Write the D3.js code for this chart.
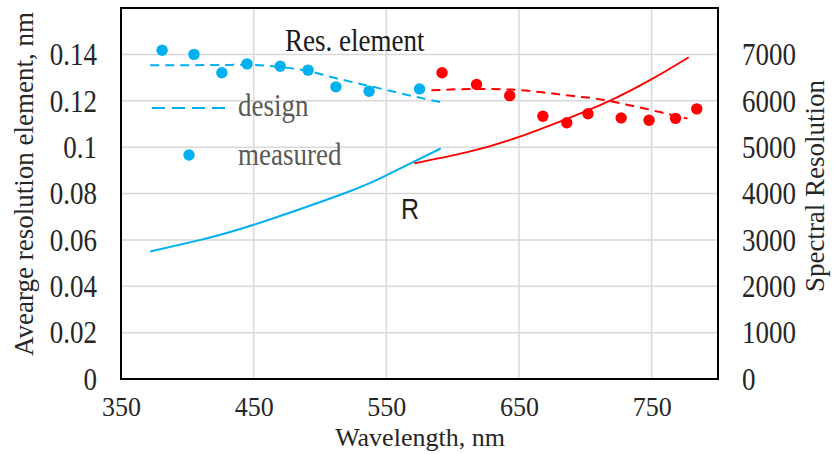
<!DOCTYPE html>
<html>
<head>
<meta charset="utf-8">
<script src="https://cdn.jsdelivr.net/npm/d3@7"></script>
<style>
  body { margin: 0; background: #fff; }
  svg { display: block; }
</style>
</head>
<body>
<svg id="chart" width="835" height="454"></svg>
<script>
// Blue arm: measured and design resolution elements (nm)
const blueMeasuredWl = [381, 405, 426, 445, 470, 491, 512, 537, 575];
const blueMeasured   = [0.1418, 0.1400, 0.1321, 0.1359, 0.1349, 0.1332, 0.1260, 0.1241, 0.1251];
const blueDesignWl   = [372, 420, 445, 470, 490, 510, 540, 570, 591];
const blueDesign     = [0.1353, 0.1354, 0.1355, 0.1345, 0.1330, 0.1300, 0.1260, 0.1220, 0.1194];

// Red arm: measured and design resolution elements (nm)
const redMeasuredWl = [592, 618, 643, 668, 686, 702, 727, 748, 768, 784];
const redMeasured   = [0.1321, 0.1270, 0.1222, 0.1133, 0.1105, 0.1144, 0.1126, 0.1116, 0.1124, 0.1165];
const redDesignWl   = [584, 619, 644, 671, 691, 707, 737, 757, 777];
const redDesign     = [0.1245, 0.1251, 0.1248, 0.1234, 0.1220, 0.1210, 0.1176, 0.1150, 0.1123];

// Spectral resolution R (right axis)
const blueRWl = [372, 410, 450, 519, 551, 591];
const blueR   = [2750, 3000, 3325, 4010, 4405, 4970];
const redRWl  = [571, 611, 650, 687, 717, 749, 778];
const redR    = [4650, 4890, 5220, 5620, 5980, 6450, 6940];

// Axis ticks
const xTicks = [350, 450, 550, 650, 750];
const leftTicks = [0, 0.02, 0.04, 0.06, 0.08, 0.1, 0.12, 0.14];
const leftTickLabels = ["0", "0.02", "0.04", "0.06", "0.08", "0.1", "0.12", "0.14"];
const rightTicks = [0, 1000, 2000, 3000, 4000, 5000, 6000, 7000];

const BLUE = "#00b0f0";
const RED = "#ff0000";
const SERIF = "'Liberation Serif', 'Times New Roman', serif";
const SY = 1.15; // vertical stretch of glyphs

const svg = d3.select("#chart");
const x = d3.scaleLinear().domain([350, 800]).range([121, 718]);
const yL = d3.scaleLinear().domain([0, 0.16]).range([379, 8]);
const yR = d3.scaleLinear().domain([0, 8000]).range([379, 8]);

const zip = (a, b) => a.map((v, i) => [v, b[i]]);

// Gridlines
const grid = svg.append("g");
grid.selectAll("line.h").data(leftTicks.filter(d => d > 0)).join("line")
  .attr("x1", x(350)).attr("x2", x(800))
  .attr("y1", d => yL(d)).attr("y2", d => yL(d))
  .attr("stroke", "#d9d9d9").attr("stroke-width", 1.5);
grid.selectAll("line.v").data(xTicks.filter(d => d > 350)).join("line")
  .attr("y1", yL(0)).attr("y2", yL(0.16))
  .attr("x1", d => x(d)).attr("x2", d => x(d))
  .attr("stroke", "#d9d9d9").attr("stroke-width", 1.5);

// Curves
const lineL = d3.line().x(d => x(d[0])).y(d => yL(d[1])).curve(d3.curveMonotoneX);
const lineR = d3.line().x(d => x(d[0])).y(d => yR(d[1])).curve(d3.curveNatural);

svg.append("path").datum(zip(blueRWl, blueR)).attr("d", lineR)
  .attr("fill", "none").attr("stroke", BLUE).attr("stroke-width", 2);
svg.append("path").datum(zip(redRWl, redR)).attr("d", lineR)
  .attr("fill", "none").attr("stroke", RED).attr("stroke-width", 1.8);

svg.append("path").datum(zip(blueDesignWl, blueDesign)).attr("d", lineL)
  .attr("fill", "none").attr("stroke", BLUE).attr("stroke-width", 2)
  .attr("stroke-dasharray", "9,6");
svg.append("path").datum(zip(redDesignWl, redDesign)).attr("d", lineL)
  .attr("fill", "none").attr("stroke", RED).attr("stroke-width", 2)
  .attr("stroke-dasharray", "9,6");

svg.append("g").selectAll("circle").data(zip(blueMeasuredWl, blueMeasured)).join("circle")
  .attr("cx", d => x(d[0])).attr("cy", d => yL(d[1])).attr("r", 5.7).attr("fill", BLUE);
svg.append("g").selectAll("circle").data(zip(redMeasuredWl, redMeasured)).join("circle")
  .attr("cx", d => x(d[0])).attr("cy", d => yL(d[1])).attr("r", 5.7).attr("fill", RED);

// Plot border
svg.append("rect").attr("x", x(350)).attr("y", yL(0.16))
  .attr("width", x(800) - x(350)).attr("height", yL(0) - yL(0.16))
  .attr("fill", "none").attr("stroke", "#000").attr("stroke-width", 2);

// Stretched text helper
function label(px, py, str, opts = {}) {
  const g = svg.append("g").attr("transform", `translate(${px},${py})` + (opts.rotate ? ` rotate(${opts.rotate})` : ""));
  return g.append("text")
    .attr("transform", `scale(1,${opts.sy ?? SY})`)
    .attr("text-anchor", opts.anchor || "start")
    .attr("font-family", opts.family || SERIF)
    .attr("font-size", opts.size || 27)
    .attr("fill", opts.fill || "#262626")
    .text(str);
}

// Left axis
const axL = svg.append("g").attr("transform", `translate(${x(350)},0)`)
  .call(d3.axisLeft(yL).tickValues(leftTicks).tickFormat((d, i) => leftTickLabels[i]).tickSize(0).tickPadding(24));
axL.select(".domain").remove();
axL.selectAll("text").attr("font-family", SERIF).attr("font-size", 27).attr("fill", "#262626")
  .attr("dy", "0.33em").attr("transform", `scale(1,${SY})`);

// Right axis
const axR = svg.append("g").attr("transform", `translate(${x(800)},0)`)
  .call(d3.axisRight(yR).tickValues(rightTicks).tickFormat(d3.format("d")).tickSize(0).tickPadding(24));
axR.select(".domain").remove();
axR.selectAll("text").attr("font-family", SERIF).attr("font-size", 27).attr("fill", "#262626")
  .attr("dy", "0.33em").attr("transform", `scale(1,${SY})`);

// Bottom axis
const axB = svg.append("g").attr("transform", `translate(0,${yL(0)})`)
  .call(d3.axisBottom(x).tickValues(xTicks).tickFormat(d3.format("d")).tickSize(0).tickPadding(0));
axB.select(".domain").remove();
axB.selectAll("text").attr("font-family", SERIF).attr("font-size", 26).attr("fill", "#262626")
  .attr("y", 0).attr("dy", 0).attr("transform", `translate(0,37) scale(1,1.05)`);

// Axis titles
label(420, 446, "Wavelength, nm", { anchor: "middle", sy: 1.0, size: 26 });
label(33, 184, "Avearge  resolution element, nm", { anchor: "middle", rotate: -90, sy: 1 });
label(824, 186, "Spectral Resolution", { anchor: "middle", rotate: -90, sy: 1 });

// Annotations and legend
label(285, 51, "Res. element", { fill: "#1a1a1a" });
label(401, 219, "R", { family: "'Liberation Sans', Arial, sans-serif", size: 25, sy: 1.2, fill: "#1f1f1f" });

svg.append("line").attr("x1", 152).attr("x2", 226).attr("y1", 108).attr("y2", 108)
  .attr("stroke", BLUE).attr("stroke-width", 2).attr("stroke-dasharray", "13,7");
label(238, 116, "design", { fill: "#595959" });
svg.append("circle").attr("cx", 189).attr("cy", 155).attr("r", 5.7).attr("fill", BLUE);
label(238, 165, "measured", { fill: "#595959" });
</script>
</body>
</html>
